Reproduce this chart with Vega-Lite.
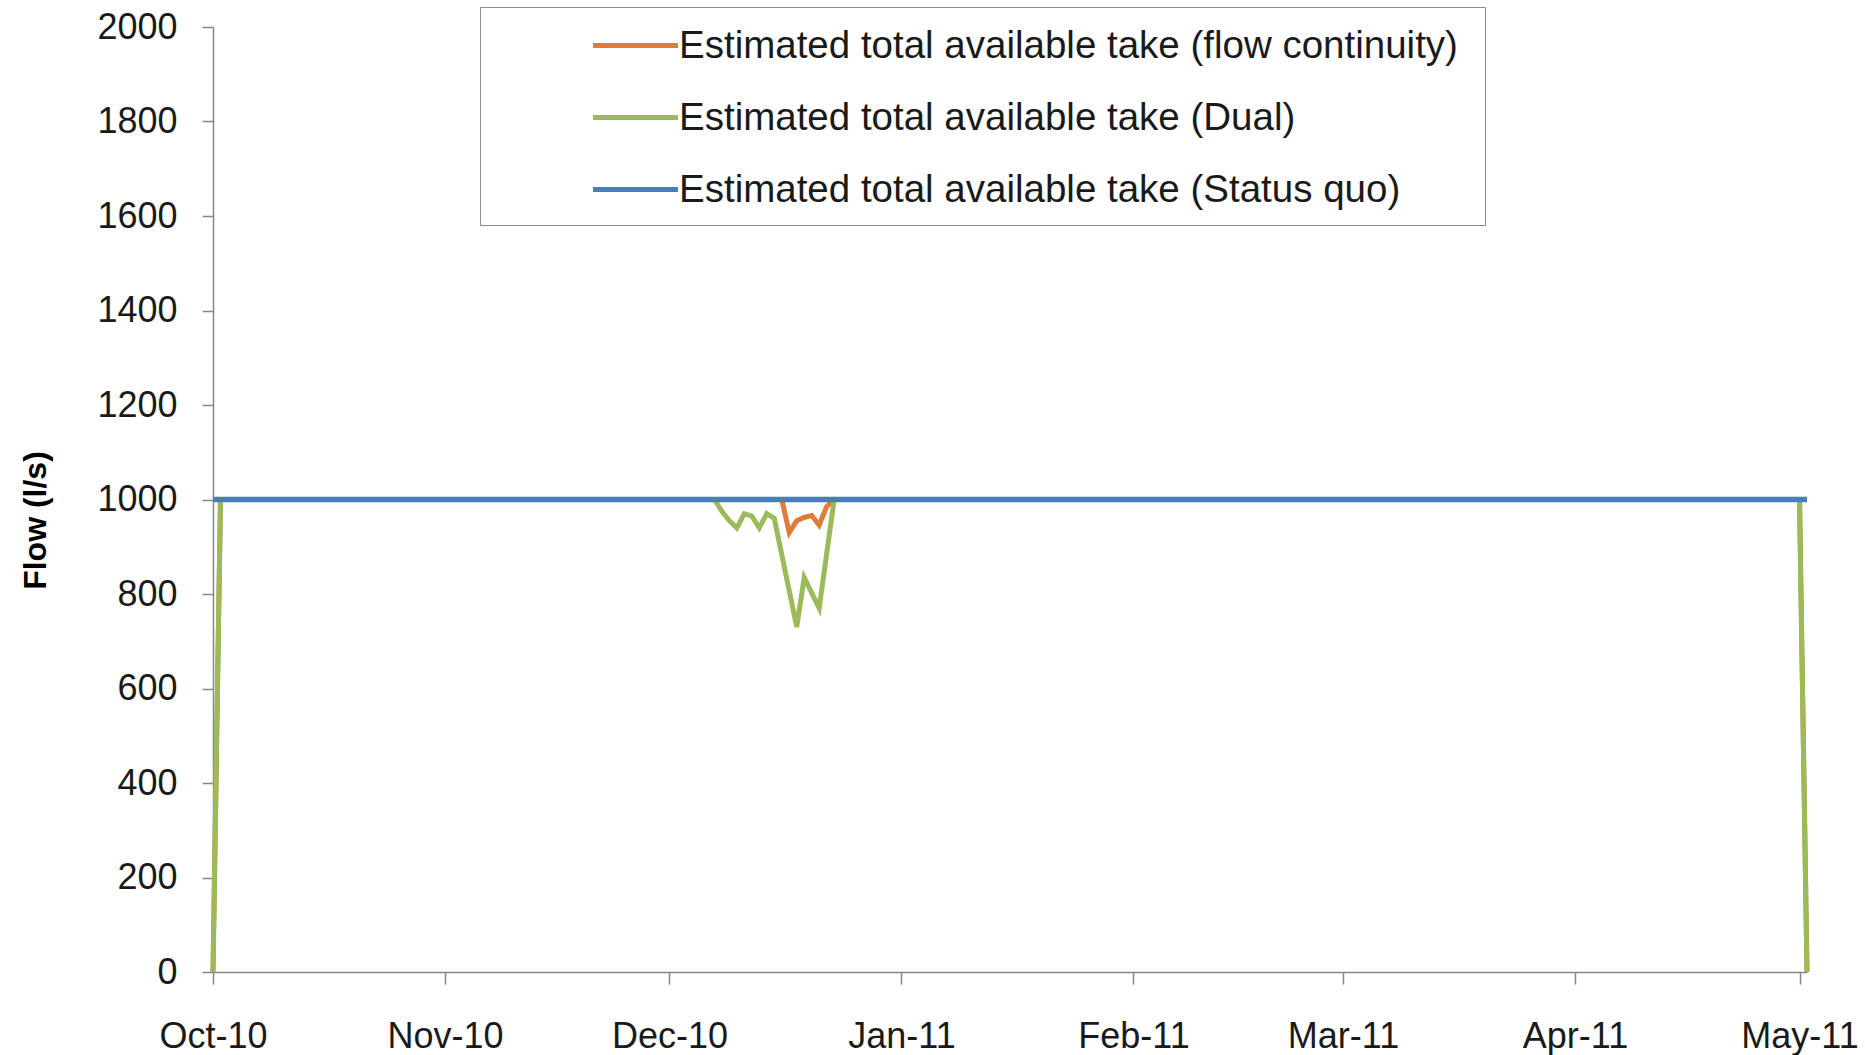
{
  "$schema": "https://vega.github.io/schema/vega-lite/v6.json",
  "width": 1594,
  "height": 945,
  "autosize": {"type": "none"},
  "padding": {"left": 213, "top": 27, "right": 58, "bottom": 83},
  "background": "white",
  "config": {
    "view": {"stroke": null},
    "font": "Liberation Sans",
    "axis": {
      "grid": false,
      "domainColor": "#868686",
      "domainWidth": 1.5,
      "tickColor": "#868686",
      "tickWidth": 1.5,
      "labelFont": "Liberation Sans",
      "labelFontSize": 36,
      "labelColor": "#1a1a1a",
      "labelFontWeight": "normal"
    },
    "legend": {
      "labelFont": "Liberation Sans",
      "labelFontSize": 38.5,
      "labelColor": "#1a1a1a",
      "labelLimit": 0
    }
  },
  "data": {
    "values": [
      {"date": "2010-10-01", "series": "Estimated total available take  (Status quo)", "flow": 1000},
      {"date": "2011-05-02", "series": "Estimated total available take  (Status quo)", "flow": 1000},

      {"date": "2010-10-01", "series": "Estimated total available take  (flow continuity)", "flow": 0},
      {"date": "2010-10-02", "series": "Estimated total available take  (flow continuity)", "flow": 1000},
      {"date": "2010-12-16", "series": "Estimated total available take  (flow continuity)", "flow": 1000},
      {"date": "2010-12-17", "series": "Estimated total available take  (flow continuity)", "flow": 930},
      {"date": "2010-12-18", "series": "Estimated total available take  (flow continuity)", "flow": 955},
      {"date": "2010-12-19", "series": "Estimated total available take  (flow continuity)", "flow": 962},
      {"date": "2010-12-20", "series": "Estimated total available take  (flow continuity)", "flow": 966},
      {"date": "2010-12-21", "series": "Estimated total available take  (flow continuity)", "flow": 946},
      {"date": "2010-12-22", "series": "Estimated total available take  (flow continuity)", "flow": 985},
      {"date": "2010-12-23", "series": "Estimated total available take  (flow continuity)", "flow": 1000},
      {"date": "2011-05-01", "series": "Estimated total available take  (flow continuity)", "flow": 1000},
      {"date": "2011-05-02", "series": "Estimated total available take  (flow continuity)", "flow": 0},

      {"date": "2010-10-01", "series": "Estimated total available take  (Dual)", "flow": 0},
      {"date": "2010-10-02", "series": "Estimated total available take  (Dual)", "flow": 1000},
      {"date": "2010-12-07", "series": "Estimated total available take  (Dual)", "flow": 1000},
      {"date": "2010-12-08", "series": "Estimated total available take  (Dual)", "flow": 975},
      {"date": "2010-12-09", "series": "Estimated total available take  (Dual)", "flow": 955},
      {"date": "2010-12-10", "series": "Estimated total available take  (Dual)", "flow": 940},
      {"date": "2010-12-11", "series": "Estimated total available take  (Dual)", "flow": 970},
      {"date": "2010-12-12", "series": "Estimated total available take  (Dual)", "flow": 965},
      {"date": "2010-12-13", "series": "Estimated total available take  (Dual)", "flow": 940},
      {"date": "2010-12-14", "series": "Estimated total available take  (Dual)", "flow": 970},
      {"date": "2010-12-15", "series": "Estimated total available take  (Dual)", "flow": 960},
      {"date": "2010-12-18", "series": "Estimated total available take  (Dual)", "flow": 730},
      {"date": "2010-12-19", "series": "Estimated total available take  (Dual)", "flow": 835},
      {"date": "2010-12-21", "series": "Estimated total available take  (Dual)", "flow": 770},
      {"date": "2010-12-23", "series": "Estimated total available take  (Dual)", "flow": 1000},
      {"date": "2011-05-01", "series": "Estimated total available take  (Dual)", "flow": 1000},
      {"date": "2011-05-02", "series": "Estimated total available take  (Dual)", "flow": 0}
    ]
  },
  "encoding": {
    "x": {
      "field": "date",
      "type": "temporal",
      "scale": {"type": "utc", "domain": [1285891200000, 1304294400000]},
      "axis": {
        "title": null,
        "format": "%b-%y",
        "tickCount": {"interval": "month", "step": 1},
        "tickSize": 12,
        "labelPadding": 35,
        "labelOverlap": false,
        "labelFlush": false
      }
    },
    "y": {
      "field": "flow",
      "type": "quantitative",
      "scale": {"domain": [0, 2000], "nice": false},
      "axis": {
        "title": "Flow (l/s)",
        "titleFontSize": 32,
        "titleFontWeight": "bold",
        "titleColor": "#000000",
        "titleAngle": 270,
        "titleX": -168,
        "titleY": 493,
        "titleAlign": "center",
        "titleBaseline": "alphabetic",
        "format": "d",
        "values": [0, 200, 400, 600, 800, 1000, 1200, 1400, 1600, 1800, 2000],
        "tickSize": 11,
        "labelPadding": 25
      }
    },
    "color": {
      "field": "series",
      "type": "nominal",
      "scale": {
        "domain": [
          "Estimated total available take  (flow continuity)",
          "Estimated total available take  (Dual)",
          "Estimated total available take  (Status quo)"
        ],
        "range": ["#E07B3A", "#9BBB59", "#4A7EBB"]
      },
      "legend": {
        "title": null,
        "orient": "none",
        "legendX": 267,
        "legendY": -20,
        "direction": "vertical",
        "fillColor": "#ffffff",
        "strokeColor": "#8c8c8c",
        "padding": 16,
        "symbolType": "M-2.125,0L2.125,0",
        "symbolSize": 1600,
        "symbolStrokeWidth": 5,
        "symbolOffset": 117,
        "labelOffset": 21,
        "rowPadding": 30
      }
    }
  },
  "layer": [
    {
      "transform": [{"filter": "datum.series === 'Estimated total available take  (flow continuity)'"}],
      "mark": {"type": "line", "strokeWidth": 5}
    },
    {
      "transform": [{"filter": "datum.series === 'Estimated total available take  (Dual)'"}],
      "mark": {"type": "line", "strokeWidth": 5}
    },
    {
      "transform": [{"filter": "datum.series === 'Estimated total available take  (Status quo)'"}],
      "mark": {"type": "line", "strokeWidth": 5.5}
    }
  ]
}
